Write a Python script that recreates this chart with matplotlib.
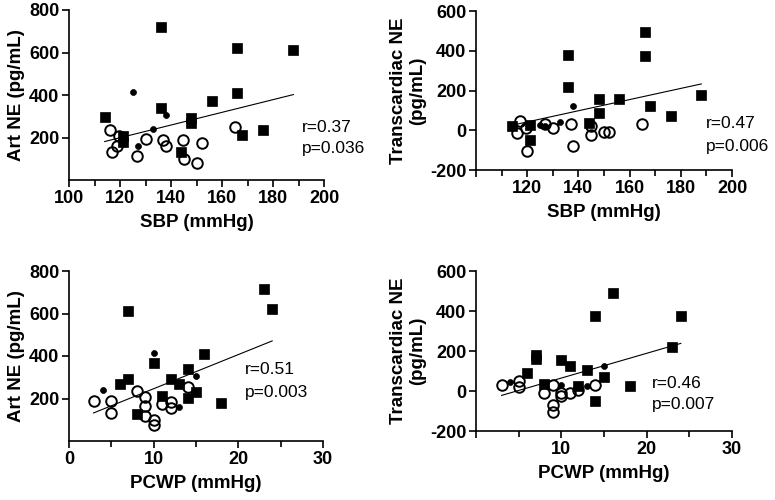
import matplotlib
matplotlib.use("Agg")
import matplotlib.pyplot as plt
from matplotlib.ticker import MultipleLocator, FixedLocator, FuncFormatter

plt.rcParams['font.family'] = ['Liberation Sans', 'DejaVu Sans']

# ---------------- data ----------------
# Panel A: SBP vs Art NE
sbp_sq = [114, 121, 121, 136, 136, 144, 148, 148, 156, 166, 166, 168, 176, 188]
art_sq = [296, 205, 180, 720, 338, 130, 290, 268, 370, 620, 410, 210, 233, 610]
sbp_op = [116, 119.7, 119, 117, 126.8, 130, 137, 138, 144.8, 145, 150, 152, 165]
art_op = [236, 208, 158, 131, 115, 192, 189, 162, 186, 98, 79, 172, 250]
sbp_dot = [125, 127, 133, 138]
art_dot = [413, 158, 241, 307]
fitA_x = [114, 188]
fitA_y = [181, 402]

# Panel B: SBP vs Transcardiac NE
trans_sq = [23, 25, -48, 377, 218, 35, 159, 89, 156, 492, 375, 122, 70, 177]
trans_op = [49, 10, -15, -102, 32, 13, 33, -77, 22, -22, -8, -8, 30]
sbpB_op = [117, 119.5, 116, 120, 127, 130, 137, 138, 145, 145, 150, 152, 165]
sbpB_dot = [125, 127, 133, 138]
trans_dot = [28, 22, 44, 124]
fitB_x = [114, 188]
fitB_y = [25, 233]

# Panel C: PCWP vs Art NE
pcwp_sq = [6, 7, 7, 8, 10, 11, 12, 13, 14, 14, 15, 16, 18, 23, 24]
artC_sq = [270, 290, 610, 129, 367, 212, 293, 267, 337, 202, 232, 408, 180, 717, 620]
pcwp_op = [3, 5, 5, 8, 9, 9, 9, 10, 10, 11, 12, 12, 14]
artC_op = [190, 190, 133, 234, 206, 163, 118, 97, 77, 173, 184, 155, 254]
pcwp_dot = [4, 10, 13, 15]
artC_dot = [238, 414, 158, 306]
fitC_x = [2.9, 24]
fitC_y = [132, 471]

# Panel D: PCWP vs Transcardiac NE
pcwpD_sq = [6, 7, 7, 8, 10, 11, 12, 13, 14, 14, 15, 16, 18, 23, 24]
transD_sq = [90, 181, 161, 35, 156, 125, 27, 103, 376, -48, 70, 489, 27, 218, 376]
pcwpD_op = [3, 5, 5, 8, 9, 9, 9, 10, 10, 11, 12, 14]
transD_op = [32, 52, 18, -10, 30, -71, -105, -10, -27, -10, 7, 30]
pcwpD_dot = [4, 10, 13, 15]
transD_dot = [45, 28, 23, 125]
fitD_x = [3, 24]
fitD_y = [-22, 238]

stats = [("r=0.37", "p=0.036"), ("r=0.47", "p=0.006"),
         ("r=0.51", "p=0.003"), ("r=0.46", "p=0.007")]

# ---------------- figure ----------------
W, H = 775, 500
fig = plt.figure(figsize=(W / 100, H / 100), dpi=100)


def box(l, r, t, b):
    return [l / W, 1 - b / H, (r - l) / W, (b - t) / H]


axA = fig.add_axes(box(69, 324, 10, 180))
axB = fig.add_axes(box(476, 732, 11, 170))
axC = fig.add_axes(box(69, 323, 271, 441))
axD = fig.add_axes(box(476, 732, 271, 431))

sq_ms, op_ms, dot_ms = 7.8, 7.6, 4.3


def draw(ax, xs, ys, xo, yo, xd, yd, fx, fy):
    ax.plot(fx, fy, color='black', lw=0.8, zorder=2)
    ax.plot(xs, ys, 's', ms=sq_ms, mfc='black', mec='black', mew=0.5, zorder=3)
    ax.plot(xo, yo, 'o', ms=op_ms, mfc='none', mec='black', mew=1.4, zorder=4)
    ax.plot(xd, yd, 'o', ms=dot_ms, mfc='black', mec='black', mew=0.5, zorder=5)


draw(axA, sbp_sq, art_sq, sbp_op, art_op, sbp_dot, art_dot, fitA_x, fitA_y)
draw(axB, sbp_sq, trans_sq, sbpB_op, trans_op, sbpB_dot, trans_dot, fitB_x, fitB_y)
draw(axC, pcwp_sq, artC_sq, pcwp_op, artC_op, pcwp_dot, artC_dot, fitC_x, fitC_y)
draw(axD, pcwpD_sq, transD_sq, pcwpD_op, transD_op, pcwpD_dot, transD_dot, fitD_x, fitD_y)

label_font = dict(fontsize=13.5, fontweight='bold')

for ax in (axA, axB, axC, axD):
    for s in ('top', 'right'):
        ax.spines[s].set_visible(False)
    for s in ('left', 'bottom'):
        ax.spines[s].set_linewidth(1.2)
    ax.tick_params(axis='both', which='major', direction='out', length=5,
                   width=1.2, labelsize=13, pad=2)
    ax.tick_params(axis='x', which='minor', direction='out', length=4, width=1.2)
    ax.tick_params(axis='y', which='minor', left=False)

# panel A
axA.set_xlim(100, 200)
axA.set_ylim(0, 800)
axA.xaxis.set_major_locator(MultipleLocator(20))
axA.xaxis.set_minor_locator(MultipleLocator(10))
axA.yaxis.set_major_locator(FixedLocator([200, 400, 600, 800]))

# panel B
axB.set_xlim(100, 200)
axB.set_ylim(-200, 600)
axB.xaxis.set_major_locator(MultipleLocator(20))
axB.xaxis.set_minor_locator(MultipleLocator(10))
axB.yaxis.set_major_locator(MultipleLocator(200))

# panel C
axC.set_xlim(0, 30)
axC.set_ylim(0, 800)
axC.xaxis.set_major_locator(MultipleLocator(10))
axC.xaxis.set_minor_locator(MultipleLocator(5))
axC.yaxis.set_major_locator(FixedLocator([200, 400, 600, 800]))

# panel D
axD.set_xlim(0, 30)
axD.set_ylim(-200, 600)
axD.xaxis.set_major_locator(MultipleLocator(10))
axD.xaxis.set_minor_locator(MultipleLocator(5))
axD.yaxis.set_major_locator(MultipleLocator(200))


def fmt_hide_first(first):
    def f(v, pos):
        if abs(v - first) < 1e-9:
            return ""
        return f"{v:g}"
    return f


axB.xaxis.set_major_formatter(FuncFormatter(fmt_hide_first(100)))
axD.xaxis.set_major_formatter(FuncFormatter(fmt_hide_first(0)))
axA.xaxis.set_major_formatter(FuncFormatter(lambda v, p: f"{v:g}"))
axC.xaxis.set_major_formatter(FuncFormatter(lambda v, p: f"{v:g}"))
for ax in (axA, axB, axC, axD):
    ax.yaxis.set_major_formatter(FuncFormatter(lambda v, p: f"{v:g}"))
    for lab in ax.get_xticklabels() + ax.get_yticklabels():
        lab.set_fontweight('bold')

axA.set_xlabel("SBP (mmHg)", labelpad=5, **label_font)
axB.set_xlabel("SBP (mmHg)", labelpad=5, **label_font)
axC.set_xlabel("PCWP (mmHg)", labelpad=5, **label_font)
axD.set_xlabel("PCWP (mmHg)", labelpad=5, **label_font)
axA.set_ylabel("Art NE (pg/mL)", labelpad=3, **label_font)
axC.set_ylabel("Art NE (pg/mL)", labelpad=3, **label_font)
axB.set_ylabel("Transcardiac NE\n(pg/mL)", labelpad=3, linespacing=1.1, **label_font)
axD.set_ylabel("Transcardiac NE\n(pg/mL)", labelpad=3, linespacing=1.1, **label_font)

# r / p annotations (pixel positions: left x, r-line centre y, p-line centre y)
pos = [(302, 127, 148), (706, 123, 146), (245, 370, 392), (652, 383, 405)]
for (r_txt, p_txt), (px, ry, py) in zip(stats, pos):
    fig.text(px / W, 1 - ry / H, r_txt, fontsize=12.5, va='center', ha='left')
    fig.text(px / W, 1 - py / H, p_txt, fontsize=12.5, va='center', ha='left')

fig.savefig("out.png", dpi=100)
